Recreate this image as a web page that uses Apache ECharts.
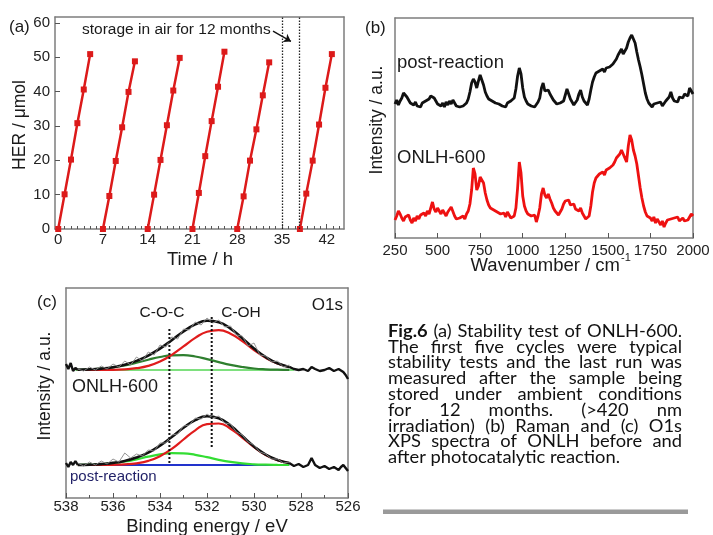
<!DOCTYPE html>
<html>
<head>
<meta charset="utf-8">
<title>Fig.6</title>
<script src="https://cdn.jsdelivr.net/npm/echarts@6/dist/echarts.min.js"></script>
<style>
  html, body { margin: 0; padding: 0; background: #fff; }
  #chart { width: 713px; height: 535px; }
</style>
</head>
<body>
<div id="chart"></div>
<script>
// ---------- (a) 稳定性测试 ----------
const cycleTimes = [
  [0, 1, 2, 3, 4, 5],
  [7, 8, 9, 10, 11, 12],
  [14, 15, 16, 17, 18, 19],
  [21, 22, 23, 24, 25, 26],
  [28, 29, 30, 31, 32, 33],
  [37.8, 38.8, 39.8, 40.8, 41.8, 42.8]
];
const cycleHer = [
  [0, 10.1, 20.2, 30.8, 40.6, 50.9],
  [0, 9.6, 19.8, 29.6, 39.9, 48.8],
  [0, 10.0, 20.1, 30.2, 40.3, 49.8],
  [0, 10.5, 21.2, 31.4, 41.4, 51.6],
  [0, 9.5, 19.9, 29.0, 38.9, 48.5],
  [0, 10.3, 19.9, 30.4, 41.1, 50.9]
];
const timeTicks = [0, 7, 14, 21, 28, 35, 42];
const timeMinorTicks = [1, 2, 3, 4, 5, 6, 8, 9, 10, 11, 12, 13, 15, 16, 17, 18, 19, 20,
  22, 23, 24, 25, 26, 27, 29, 30, 31, 32, 33, 34, 36, 37, 38, 39, 40, 41, 43, 44];
const herTicks = [0, 10, 20, 30, 40, 50, 60];
const storageLines = [35, 37.7];

// ---------- (b) Raman ----------
const wavenumber = [
  250, 260, 270, 280, 290, 300, 310, 320, 330, 340,
  350, 360, 370, 380, 390, 400, 410, 420, 430, 440,
  450, 460, 470, 480, 490, 500, 510, 520, 530, 540,
  550, 560, 570, 580, 590, 600, 610, 620, 630, 640,
  650, 660, 670, 680, 690, 700, 710, 720, 730, 740,
  750, 760, 770, 780, 790, 800, 810, 820, 830, 840,
  850, 860, 870, 880, 890, 900, 910, 920, 930, 940,
  950, 960, 970, 980, 990, 1000, 1010, 1020, 1030, 1040,
  1050, 1060, 1070, 1080, 1090, 1100, 1110, 1120, 1130, 1140,
  1150, 1160, 1170, 1180, 1190, 1200, 1210, 1220, 1230, 1240,
  1250, 1260, 1270, 1280, 1290, 1300, 1310, 1320, 1330, 1340,
  1350, 1360, 1370, 1380, 1390, 1400, 1410, 1420, 1430, 1440,
  1450, 1460, 1470, 1480, 1490, 1500, 1510, 1520, 1530, 1540,
  1550, 1560, 1570, 1580, 1590, 1600, 1610, 1620, 1630, 1640,
  1650, 1660, 1670, 1680, 1690, 1700, 1710, 1720, 1730, 1740,
  1750, 1760, 1770, 1780, 1790, 1800, 1810, 1820, 1830, 1840,
  1850, 1860, 1870, 1880, 1890, 1900, 1910, 1920, 1930, 1940,
  1950, 1960, 1970, 1980, 1990, 2000
];
const ramanPost = [
  134, 138, 133, 137, 140, 145, 147, 141, 138, 135,
  137, 133, 136, 132, 134, 131, 135, 133, 137, 135,
  139, 142, 144, 140, 137, 134, 136, 132, 135, 131,
  136, 133, 137, 134, 138, 135, 132, 134, 131, 129,
  132, 130, 135, 139, 146, 155, 159, 156, 150, 157,
  163, 161, 153, 146, 142, 139, 141, 137, 139, 135,
  137, 134, 136, 132, 134, 131, 135, 133, 137, 136,
  140, 149, 162, 170, 164, 150, 141, 137, 134, 136,
  132, 134, 131, 133, 136, 140, 150, 155, 147, 145,
  148, 144, 141, 138, 136, 134, 132, 135, 133, 137,
  143, 149, 144, 139, 136, 133, 134, 138, 144, 148,
  141, 137, 135, 133, 139, 148, 156, 161, 165, 163,
  167, 165, 169, 166, 170, 168, 171, 169, 174, 176,
  179, 183, 186, 189, 184, 183, 190, 196, 200, 203,
  199, 195, 186, 178, 171, 163, 154, 145, 139, 135,
  133, 131, 134, 132, 135, 133, 136, 132, 134, 137,
  135, 141, 146, 140, 137, 139, 136, 141, 143, 140,
  144, 146, 142, 150, 147, 144
];
const ramanOnlh = [
  18, 22, 27, 24, 20, 17, 21, 19, 23, 18,
  15, 20, 17, 22, 19, 23, 21, 25, 22, 27,
  24, 30, 36, 29, 26, 30, 27, 24, 28, 25,
  22, 26, 24, 31, 29, 22, 19, 17, 20, 18,
  22, 19, 24, 27, 34, 48, 70, 64, 48, 52,
  61, 63, 55, 45, 38, 33, 30, 32, 28, 30,
  26, 28, 24, 22, 25, 21, 26, 24, 20, 18,
  22, 30, 50, 76, 65, 42, 32, 27, 24, 26,
  22, 20, 23, 16, 22, 30, 44, 50, 43, 40,
  44, 39, 35, 30, 27, 25, 23, 26, 29, 34,
  37, 36, 38, 33, 31, 34, 29, 31, 27, 30,
  25, 22, 19, 17, 22, 32, 46, 55, 60, 58,
  64, 62, 66, 63, 68, 66, 70, 68, 73, 76,
  80, 78, 84, 88, 86, 80, 76, 92, 103, 98,
  88, 82, 74, 62, 50, 40, 32, 26, 22, 24,
  20, 17, 21, 15, 19, 16, 13, 17, 11, 15,
  18, 16, 19, 17, 20, 18, 21, 17, 19, 20,
  17, 15, 18, 21, 24, 22
];

// ---------- (c) XPS O1s ----------
const fitEnergy = [537.5, 537, 536.5, 536, 535.5, 535, 534.5, 534, 533.5, 533,
  532.5, 532, 531.5, 531, 530.5, 530, 529.5, 529, 528.5];
// ONLH-600
const topEnvelope = [128.2, 128.6, 129.4, 130.8, 133.3, 137.1, 142.4, 149.4, 157.8, 166.5,
  173.6, 177.2, 175.8, 169.4, 159.8, 149.5, 140.9, 134.7, 131.1];
const topCOH = [128.0, 128.0, 128.1, 128.2, 128.7, 129.8, 132.1, 136.4, 143.1, 151.6,
  160.1, 166.3, 167.9, 164.3, 156.8, 148.0, 140.2, 134.4, 131.0];
const topCOC = [128.2, 128.6, 129.3, 130.6, 132.6, 135.3, 138.3, 141.0, 142.7, 142.9,
  141.5, 138.9, 135.9, 133.1, 131.0, 129.5, 128.7, 128.3, 128.1];
const topBaseE = [537.6, 528.3];
const topBase = [128, 128];
const topTailLeftE = [538, 537.9, 537.8, 537.7, 537.6, 537.5];
const topTailLeft = [134, 129, 135, 127, 130, 128.2];
const topTailRightE = [528.5, 528.3, 528.1, 527.9, 527.7, 527.55, 527.4, 527.2, 527, 526.8,
  526.6, 526.4, 526.2, 526.1, 526];
const topTailRight = [131.1, 129, 128, 129, 127, 131, 129, 127, 128, 130,
  127, 129, 126, 123, 119];
const rawEnergy = [537.5, 537.25, 537, 536.75, 536.5, 536.25, 536, 535.75, 535.5, 535.25,
  535, 534.75, 534.5, 534.25, 534, 533.75, 533.5, 533.25, 533, 532.75,
  532.5, 532.25, 532, 531.75, 531.5, 531.25, 531, 530.75, 530.5, 530.25,
  530, 529.75, 529.5, 529.25, 529, 528.75, 528.5];
const topRaw = [129, 127, 131, 128, 132, 129, 134, 131, 137, 133,
  141, 137, 146, 143, 153, 151, 161, 159, 169, 168,
  176, 173, 180, 175, 178, 171, 172, 163, 162, 152,
  155, 143, 142, 136, 137, 131, 133];
// post-reaction
const botEnvelope = [33.1, 33.4, 33.9, 35.1, 37.1, 40.4, 45.4, 52.4, 61.0, 70.2,
  77.9, 81.7, 79.7, 72.4, 62.0, 51.6, 43.3, 38.0, 35.0];
const botCOH = [33.0, 33.0, 33.0, 33.2, 33.6, 34.7, 37.1, 41.8, 49.1, 58.5,
  67.7, 73.9, 74.5, 69.3, 60.4, 50.9, 43.0, 37.9, 35.0];
const botCOC = [33.1, 33.4, 33.9, 34.9, 36.5, 38.7, 41.3, 43.6, 44.9, 44.7,
  43.2, 40.8, 38.2, 36.1, 34.6, 33.7, 33.3, 33.1, 33.0];
const botBaseE = [537.3, 528.5];
const botBase = [33, 33];
const botTailLeftE = [538, 537.9, 537.8, 537.7, 537.6, 537.5];
const botTailLeft = [35, 31, 36, 33, 37, 33.1];
const botTailRightE = [528.5, 528.3, 528.1, 527.9, 527.7, 527.55, 527.4, 527.2, 527, 526.8,
  526.6, 526.4, 526.3, 526.2, 526.1, 526];
const botTailRight = [35, 32, 34, 31, 33, 40, 33, 30, 32, 29,
  31, 28, 31, 33, 30, 27];
const botRaw = [35, 32, 36, 33, 37, 34, 39, 36, 45, 40,
  44, 42, 48, 47, 55, 55, 63, 64, 72, 73,
  80, 79, 84, 80, 82, 75, 74, 66, 63, 56,
  53, 46, 44, 39, 39, 35, 36];
// 虚线位置 C-O-C / C-OH
const cocLine = { e: 533.6, from: 35, to: 171 };
const cohLine = { e: 531.8, from: 51, to: 183 };

// ---------- 图注 ----------
const captionLines = [
  'Fig.6 (a) Stability test of ONLH-600.',
  'The first five cycles were typical',
  'stability tests and the last run was',
  'measured after the sample being',
  'stored under ambient conditions',
  'for 12 months. (>420 nm',
  'irradiation) (b) Raman and (c) O1s',
  'XPS spectra of ONLH before and',
  'after photocatalytic reaction.'
];

const zip = (xs, ys) => xs.map((x, i) => [x, ys[i]]);

const FONT = 'Liberation Sans';
const boxColor = '#7d7d7d';
const tickColor = '#555';
const tickLabel = { fontFamily: FONT, fontSize: 15, color: '#222' };

function boxAxis(gridIndex, position, min, max, inverse) {
  return {
    gridIndex: gridIndex, type: 'value', position: position, min: min, max: max,
    inverse: !!inverse,
    axisLine: { show: true, onZero: false, lineStyle: { color: boxColor, width: 1.5 } },
    axisTick: { show: false }, axisLabel: { show: false }, splitLine: { show: false }
  };
}

const xAxes = [
  // 0: (a) bottom
  {
    gridIndex: 0, type: 'value', position: 'bottom', min: -0.5, max: 44.7,
    axisLine: { show: true, onZero: false, lineStyle: { color: boxColor, width: 1.5 } },
    axisTick: { show: true, inside: true, length: 5, customValues: timeTicks, lineStyle: { color: tickColor } },
    axisLabel: Object.assign({ customValues: timeTicks, margin: 3 }, tickLabel),
    splitLine: { show: false }
  },
  // 1: (a) top
  boxAxis(0, 'top', -0.5, 44.7),
  // 2: (a) minor ticks
  {
    gridIndex: 0, type: 'value', position: 'bottom', min: -0.5, max: 44.7,
    axisLine: { show: false, onZero: false },
    axisTick: { show: true, inside: true, length: 3, customValues: timeMinorTicks, lineStyle: { color: tickColor } },
    axisLabel: { show: false }, splitLine: { show: false }
  },
  // 3: (b) bottom
  {
    gridIndex: 1, type: 'value', position: 'bottom', min: 250, max: 2000, interval: 250,
    axisLine: { show: true, onZero: false, lineStyle: { color: boxColor, width: 1.5 } },
    axisTick: { show: true, inside: true, length: 5, lineStyle: { color: tickColor } },
    axisLabel: Object.assign({ margin: 5, formatter: v => String(v) }, tickLabel),
    splitLine: { show: false }
  },
  // 4: (b) top
  boxAxis(1, 'top', 250, 2000),
  // 5: (c) bottom
  {
    gridIndex: 2, type: 'value', position: 'bottom', min: 526, max: 538, interval: 2, inverse: true,
    axisLine: { show: true, onZero: false, lineStyle: { color: boxColor, width: 1.5 } },
    axisTick: { show: true, inside: true, length: 5, lineStyle: { color: tickColor } },
    minorTick: { show: true, splitNumber: 2, length: 3, lineStyle: { color: tickColor } },
    axisLabel: Object.assign({ margin: 1, formatter: v => String(v) }, tickLabel),
    splitLine: { show: false }
  },
  // 6: (c) top
  boxAxis(2, 'top', 526, 538, true)
];

const yAxes = [
  // 0: (a) left
  {
    gridIndex: 0, type: 'value', position: 'left', min: 0, max: 61.7,
    axisLine: { show: true, onZero: false, lineStyle: { color: boxColor, width: 1.5 } },
    axisTick: { show: true, inside: true, length: 5, customValues: herTicks, lineStyle: { color: tickColor } },
    axisLabel: Object.assign({ customValues: herTicks, margin: 5 }, tickLabel),
    splitLine: { show: false }
  },
  boxAxis(0, 'right', 0, 61.7),
  boxAxis(1, 'left', 0, 220),
  boxAxis(1, 'right', 0, 220),
  boxAxis(2, 'left', 0, 210),
  boxAxis(2, 'right', 0, 210)
];

const series = [];

// (a)
cycleTimes.forEach((t, i) => {
  series.push({
    type: 'line', xAxisIndex: 0, yAxisIndex: 0,
    data: zip(t, cycleHer[i]),
    symbol: 'rect', symbolSize: 6,
    lineStyle: { color: '#dc1a1a', width: 2.5 },
    itemStyle: { color: '#dc1a1a' },
    silent: true, z: 3
  });
});
series[0].markLine = {
  silent: true, animation: false, symbol: ['none', 'none'],
  label: { show: false },
  lineStyle: { color: '#222', width: 1.3, type: [1.5, 1.5] },
  data: storageLines.map(v => ({ xAxis: v })).concat([[
    { coord: [33.6, 57.6], symbol: 'none', lineStyle: { type: 'solid', color: '#111', width: 1.3 } },
    { coord: [36.4, 54.6], symbol: 'arrow', symbolSize: 7 }
  ]])
};

// (b)
series.push({
  type: 'line', xAxisIndex: 3, yAxisIndex: 2, data: zip(wavenumber, ramanPost),
  showSymbol: false, silent: true, lineStyle: { color: '#111', width: 2.8 }
});
series.push({
  type: 'line', xAxisIndex: 3, yAxisIndex: 2, data: zip(wavenumber, ramanOnlh),
  showSymbol: false, silent: true, lineStyle: { color: '#ee1111', width: 2.8 }
});

// (c)
function xpsLine(xs, ys, color, width, smooth, z) {
  return {
    type: 'line', xAxisIndex: 5, yAxisIndex: 4, data: zip(xs, ys),
    showSymbol: false, silent: true, smooth: smooth, z: z || 2,
    lineStyle: { color: color, width: width }
  };
}
series.push(xpsLine(topBaseE, topBase, '#7ee07e', 2.2, false));
series.push(xpsLine(fitEnergy, topCOC, '#2f7f2f', 2.2, true));
series.push(xpsLine(fitEnergy, topCOH, '#e01c1c', 2.2, true));
series.push(xpsLine(fitEnergy, topEnvelope, '#111', 2.6, true, 3));
series.push(xpsLine(topTailLeftE, topTailLeft, '#111', 2.4, false, 3));
series.push(xpsLine(topTailRightE, topTailRight, '#111', 2.4, false, 3));
series.push(xpsLine(rawEnergy, topRaw, '#8a8a8a', 0.9, false, 4));
series.push(xpsLine(botBaseE, botBase, '#2233cc', 2.2, false));
series.push(xpsLine(fitEnergy, botCOC, '#33dd33', 2.2, true));
series.push(xpsLine(fitEnergy, botCOH, '#e01c1c', 2.2, true));
series.push(xpsLine(fitEnergy, botEnvelope, '#111', 2.6, true, 3));
series.push(xpsLine(botTailLeftE, botTailLeft, '#111', 2.4, false, 3));
series.push(xpsLine(botTailRightE, botTailRight, '#111', 2.4, false, 3));
series.push(xpsLine(rawEnergy, botRaw, '#8a8a8a', 0.9, false, 4));
[cocLine, cohLine].forEach(l => {
  const s = xpsLine([l.e, l.e], [l.from, l.to], '#111', 2, false, 5);
  s.lineStyle.type = [2, 2];
  series.push(s);
});

// 文本
function txt(text, x, y, size, opts) {
  opts = opts || {};
  return {
    type: 'text', x: x, y: y, rotation: opts.rotate ? Math.PI / 2 : 0,
    scaleX: opts.scaleX || 1, silent: true, z: 10,
    style: {
      text: text, fontFamily: opts.family || FONT, fontSize: size,
      fontWeight: opts.weight || 'normal', fill: opts.color || '#1a1a1a',
      align: opts.align || 'left', verticalAlign: 'middle'
    }
  };
}
const graphics = [
  txt('(a)', 9, 27, 17),
  txt('HER / μmol', 20, 125, 17.5, { rotate: true, align: 'center' }),
  txt('Time / h', 200, 260, 18.5, { align: 'center' }),
  txt('storage in air for 12 months', 82, 30, 15.5),
  txt('(b)', 365, 28, 17),
  txt('Intensity / a.u.', 377, 120, 17.5, { rotate: true, align: 'center' }),
  txt('post-reaction', 397, 63, 18.5),
  txt('ONLH-600', 397, 158, 18.5),
  txt('Wavenumber / cm', 620, 266, 18.5, { align: 'right' }),
  txt('-1', 621, 258, 11),
  txt('(c)', 37, 302, 17),
  txt('O1s', 343, 305, 17, { align: 'right' }),
  txt('C-O-C', 162, 313, 15.5, { align: 'center' }),
  txt('C-OH', 241, 313, 15.5, { align: 'center' }),
  txt('Intensity / a.u.', 45, 386, 17.5, { rotate: true, align: 'center' }),
  txt('ONLH-600', 72, 387, 18),
  txt('post-reaction', 70, 477, 15, { color: '#1f1f66' }),
  txt('Binding energy / eV', 207, 527, 18.5, { align: 'center' }),
  {
    type: 'rect', silent: true, shape: { x: 383, y: 509.5, width: 305, height: 4.5 },
    style: { fill: '#9a9a9a' }
  }
];

// 图注两端对齐（原图横向略拉伸）
const CAP_FONT = 'Lato';
const CAP_SIZE = 16.5;
const capLeft = 388, capRight = 682, capTop = 331.5, capLead = 15.8, lastLineWidth = 232;
const measure = document.createElement('canvas').getContext('2d');
function textWidth(t, bold) {
  measure.font = (bold ? 'bold ' : '') + CAP_SIZE + 'px ' + CAP_FONT;
  return measure.measureText(t).width;
}
const capScale = lastLineWidth / textWidth(captionLines[captionLines.length - 1], false);
captionLines.forEach((line, i) => {
  const words = line.split(' ');
  const bold = words.map((w, j) => i === 0 && j === 0);
  const widths = words.map((w, j) => textWidth(w, bold[j]) * capScale);
  const total = widths.reduce((a, b) => a + b, 0);
  const last = i === captionLines.length - 1;
  const gap = last ? textWidth(' ', false) * capScale : (capRight - capLeft - total) / (words.length - 1);
  let x = capLeft;
  words.forEach((w, j) => {
    graphics.push(txt(w, x, capTop + i * capLead, CAP_SIZE,
      { family: CAP_FONT, weight: bold[j] ? 'bold' : 'normal', color: '#111', scaleX: capScale }));
    x += widths[j] + gap;
  });
});

const chart = echarts.init(document.getElementById('chart'), null, { renderer: 'canvas' });
chart.setOption({
  animation: false,
  backgroundColor: '#fff',
  grid: [
    { left: 55, top: 17, width: 289, height: 212, outerBoundsMode: 'none' },
    { left: 395, top: 18, width: 298, height: 220, outerBoundsMode: 'none' },
    { left: 66, top: 288, width: 282, height: 210, outerBoundsMode: 'none' }
  ],
  xAxis: xAxes,
  yAxis: yAxes,
  series: series,
  graphic: graphics
});
</script>
</body>
</html>
